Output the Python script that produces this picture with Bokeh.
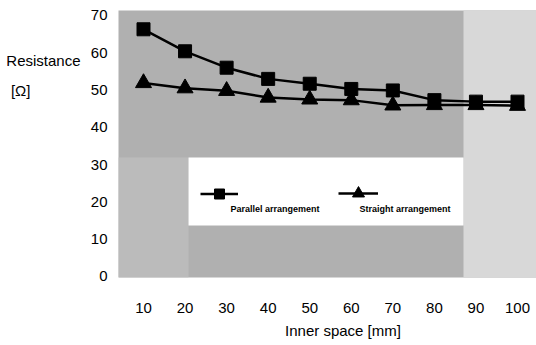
from bokeh.plotting import figure
from bokeh.models import (Range1d, FixedTicker, Label, Legend, LegendItem, BoxAnnotation, LinearAxis)
from bokeh.embed import file_html
from bokeh.resources import INLINE

inner_space = [10, 20, 30, 40, 50, 60, 70, 80, 90, 100]
parallel = [66.3, 60.4, 56.0, 53.0, 51.7, 50.3, 49.9, 47.3, 46.9, 46.9]
straight = [51.9, 50.5, 49.8, 48.0, 47.5, 47.3, 45.9, 46.0, 46.0, 45.8]
y_ticks = [0, 10, 20, 30, 40, 50, 60, 70]
x_ticks = inner_space
y_title = {58: "Resistance", 50: "[Ω]" + "\u00a0" * 12}
x_title = {58: "Inner space [mm]"}

FONT = "Liberation Sans"

p = figure(width=536, height=345, output_backend="svg", toolbar_location=None,
           x_range=Range1d(3.984, 104.57), y_range=Range1d(-0.27, 71.34),
           min_border_left=118, min_border_right=0, min_border_top=10, min_border_bottom=68)
p.background_fill_color = "#b0b0b0"
p.border_fill_color = "white"
p.outline_line_color = None
p.grid.visible = False

# background panels
p.add_layout(BoxAnnotation(left=87.0, fill_color="#d8d8d8", fill_alpha=1, line_color=None, level="underlay"))
p.add_layout(BoxAnnotation(right=20.83, top=31.92, fill_color="#bbbbbb", fill_alpha=1, line_color=None, level="underlay"))
p.add_layout(BoxAnnotation(left=20.83, right=87.0, bottom=13.68, top=31.92, fill_color="white",
                           fill_alpha=1, line_color=None, level="underlay"))

def style_axis(ax, standoff):
    ax.axis_line_color = None
    ax.major_tick_line_color = None
    ax.minor_tick_line_color = None
    ax.major_tick_in = 0
    ax.major_tick_out = 0
    ax.major_label_text_font = FONT
    ax.major_label_text_font_size = "15px"
    ax.major_label_text_color = "black"
    ax.major_label_standoff = standoff

style_axis(p.xaxis[0], 25)
style_axis(p.yaxis[0], 11)
p.xaxis[0].ticker = FixedTicker(ticks=x_ticks)
p.yaxis[0].ticker = FixedTicker(ticks=y_ticks)

# axis titles drawn as outer axes
yt = LinearAxis(ticker=FixedTicker(ticks=list(y_title.keys())), major_label_overrides=y_title)
style_axis(yt, 7)
p.add_layout(yt, "left")
xt = LinearAxis(ticker=FixedTicker(ticks=list(x_title.keys())), major_label_overrides=x_title)
style_axis(xt, 6)
p.add_layout(xt, "below")

l2 = p.line(inner_space, straight, line_color="black", line_width=2.5)
s2 = p.scatter(inner_space, straight, marker="triangle", size=16, fill_color="black", line_color="black")
l1 = p.line(inner_space, parallel, line_color="black", line_width=2.5)
s1 = p.scatter(inner_space, parallel, marker="square", size=13, fill_color="black", line_color="black")

def mk_legend(item, loc, gw, gh):
    lg = Legend(items=[item], location=loc, padding=0, margin=0, spacing=0,
                glyph_width=gw, glyph_height=gh, label_standoff=0, label_width=0, label_height=0,
                label_text_font_size="1px", background_fill_alpha=0, border_line_alpha=0)
    p.add_layout(lg)

mk_legend(LegendItem(label=" ", renderers=[l1, s1]), (82, 71.5), 38, 25)
mk_legend(LegendItem(label=" ", renderers=[l2, s2]), (220, 69), 40, 30)

def txt(x, y, t, size="9px", style="bold"):
    p.add_layout(Label(x=x, y=y, text=t, text_font=FONT, text_font_size=size,
                       text_font_style=style, text_align="left", text_baseline="middle",
                       text_color="black"))

txt(30.94, 17.97, "Parallel arrangement")
txt(61.98, 17.97, "Straight arrangement")

open("out.html", "w").write(file_html(p, INLINE))
